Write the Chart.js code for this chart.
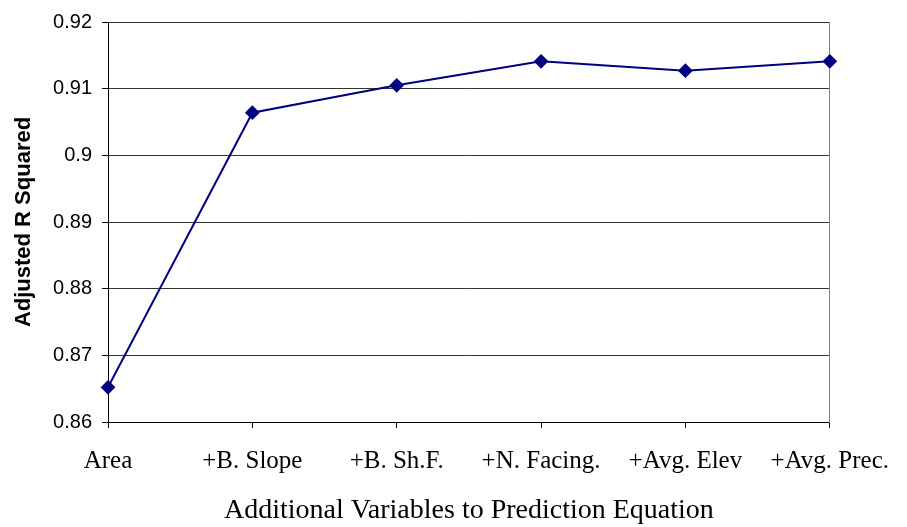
<!DOCTYPE html>
<html>
<head>
<meta charset="utf-8">
<title>Adjusted R Squared</title>
<script src="https://cdn.jsdelivr.net/npm/chart.js@4/dist/chart.umd.min.js"></script>
<style>
    html, body { margin: 0; padding: 0; background: #fff; }
    #wrap { width: 907px; height: 527px; position: relative; }
</style>
</head>
<body>
<div id="wrap"><canvas id="rsqChart"></canvas></div>
<script>
// Chart data
const categories = ['Area', '+B. Slope', '+B. Sh.F.', '+N. Facing.', '+Avg. Elev', '+Avg. Prec.'];
const adjRSquared = [0.8652, 0.9064, 0.9105, 0.9141, 0.9127, 0.9141];
const yMin = 0.86;
const yMax = 0.92;
const yStep = 0.01;

const serif = "'Liberation Serif', 'Times New Roman', serif";
const sans = "'Liberation Sans', Arial, sans-serif";

document.addEventListener('DOMContentLoaded', () => {
    createChart();
});

function createChart() {
    const ctx = document.getElementById('rsqChart').getContext('2d');
    new Chart(ctx, {
        type: 'line',
        data: {
            labels: categories,
            datasets: [{
                label: 'Adjusted R Squared',
                data: adjRSquared,
                borderColor: '#000080',
                backgroundColor: '#000080',
                borderWidth: 2,
                tension: 0,
                pointStyle: 'rectRot',
                pointRadius: 6,
                pointHoverRadius: 6,
                pointBackgroundColor: '#000080',
                pointBorderColor: '#000080'
            }]
        },
        options: {
            responsive: true,
            maintainAspectRatio: false,
            animation: false,
            layout: {
                padding: { top: 19, right: 76, bottom: 0, left: 0 }
            },
            plugins: {
                legend: { display: false },
                tooltip: { enabled: false }
            },
            scales: {
                x: {
                    offset: false,
                    grid: {
                        drawOnChartArea: false,
                        drawTicks: true,
                        tickLength: 6,
                        color: '#000'
                    },
                    border: { color: '#000', width: 1 },
                    ticks: {
                        color: '#000',
                        padding: 18,
                        maxRotation: 0,
                        autoSkip: false,
                        font: { family: serif, size: 25 }
                    },
                    title: {
                        display: true,
                        text: 'Additional Variables to Prediction Equation',
                        color: '#000',
                        padding: { top: 0, bottom: 0 },
                        font: { family: serif, size: 28 }
                    },
                    afterFit: (scale) => { scale.height = 105; }
                },
                y: {
                    min: yMin,
                    max: yMax,
                    grid: {
                        color: '#333',
                        tickLength: 6,
                        tickColor: '#000'
                    },
                    border: { color: '#000', width: 1 },
                    ticks: {
                        stepSize: yStep,
                        color: '#000',
                        padding: 10,
                        font: { family: sans, size: 20 },
                        callback: (v) => String(Number(v.toFixed(2)))
                    },
                    title: {
                        display: true,
                        text: 'Adjusted R Squared',
                        color: '#000',
                        padding: { top: 11, bottom: 0 },
                        font: { family: sans, size: 22, weight: 'bold' }
                    },
                    afterFit: (scale) => { scale.width = 108; }
                },
                yRight: {
                    position: 'right',
                    min: yMin,
                    max: yMax,
                    grid: { display: false },
                    border: { color: '#808080', width: 1 },
                    ticks: { display: false },
                    afterFit: (scale) => { scale.width = 0; }
                }
            }
        }
    });
}
</script>
</body>
</html>
